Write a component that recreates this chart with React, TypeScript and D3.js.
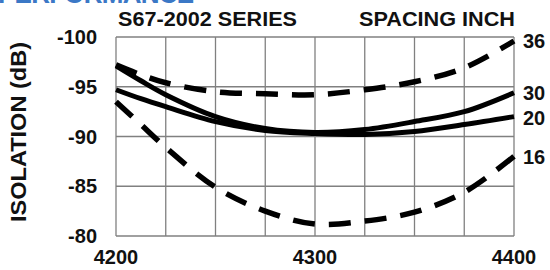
import React from "react";
import * as d3 from "d3";

const freqs = [4200, 4212.5, 4225, 4250, 4275, 4300, 4325, 4350, 4375, 4400];
const s36 = [-97.2, -96.2, -95.4, -94.5, -94.3, -94.2, -94.7, -95.5, -96.9, -99.6];
const s30 = [-97.1, -95.6, -94.2, -92.0, -90.8, -90.4, -90.7, -91.5, -92.5, -94.4];
const s20 = [-94.7, -93.8, -93.0, -91.5, -90.6, -90.3, -90.2, -90.5, -91.2, -92.0];
const s16 = [-93.5, -91.2, -88.9, -84.9, -82.5, -81.2, -81.5, -82.4, -84.4, -88.0];

const xTicks = [4200, 4300, 4400];
const yTicks = [-100, -95, -90, -85, -80];
const xGrid = [4200, 4225, 4250, 4275, 4300, 4325, 4350, 4375, 4400];

const series = [
  { name: "36", values: s36, dashed: true },
  { name: "30", values: s30, dashed: false },
  { name: "20", values: s20, dashed: false },
  { name: "16", values: s16, dashed: true },
];

const W = 550;
const H = 270;
const m = { left: 116, right: 514, top: 37, bottom: 236 };

export default function App() {
  const x = d3.scaleLinear().domain([4200, 4400]).range([m.left, m.right]);
  const y = d3.scaleLinear().domain([-100, -80]).range([m.top, m.bottom]);
  const line = d3
    .line<number>()
    .x((_, i) => x(freqs[i]))
    .y((d) => y(d))
    .curve(d3.curveCatmullRom.alpha(0.5));
  const font = "'Liberation Sans', Arial, Helvetica, sans-serif";
  const grid = "#808080";
  return (
    <div style={{ position: "fixed", left: 0, top: 0, background: "#fff" }}>
      <svg width={W} height={H} style={{ display: "block" }} fontFamily={font}>
        <rect width={W} height={H} fill="#fff" />
        <text x={-2} y={3} fontSize={26} fontWeight="bold" fill="#3b78c6" textLength={196}>
          PERFORMANCE
        </text>
        <text x={118} y={26} fontSize={20} fontWeight="bold" fill="#111" textLength={179} lengthAdjust="spacingAndGlyphs">
          S67-2002 SERIES
        </text>
        <text x={359} y={26} fontSize={20} fontWeight="bold" fill="#111" textLength={156} lengthAdjust="spacingAndGlyphs">
          SPACING INCH
        </text>
        {xGrid.map((v) => (
          <line key={"gx" + v} x1={x(v)} x2={x(v)} y1={m.top} y2={m.bottom} stroke={grid} strokeWidth={1.3} />
        ))}
        {yTicks.map((v) => (
          <line key={"gy" + v} x1={m.left} x2={m.right} y1={y(v)} y2={y(v)} stroke={grid} strokeWidth={1.3} />
        ))}
        {yTicks.map((v) => (
          <text key={"yt" + v} x={97} y={y(v)} dy="0.36em" fontSize={20} fontWeight="bold" fill="#111" textAnchor="end">
            {v}
          </text>
        ))}
        {xTicks.map((v) => (
          <text key={"xt" + v} x={x(v)} y={264} fontSize={20} fontWeight="bold" fill="#111" textAnchor="middle">
            {v}
          </text>
        ))}
        <text
          transform={`translate(26,${132}) rotate(-90)`}
          fontSize={22}
          fontWeight="bold"
          fill="#111"
          textAnchor="middle"
          textLength={180}
          lengthAdjust="spacingAndGlyphs"
        >
          ISOLATION (dB)
        </text>
        {series.map((s) => (
          <path
            key={s.name}
            d={line(s.values) || ""}
            fill="none"
            stroke="#000"
            strokeWidth={s.dashed ? 5.5 : 5}
            strokeDasharray={s.dashed ? "22 14" : undefined}
          />
        ))}
        {series.map((s) => (
          <text
            key={"lab" + s.name}
            x={523}
            y={y(s.values[s.values.length - 1]) + (s.name === "20" ? 1 : 0)}
            dy="0.36em"
            fontSize={20}
            fontWeight="bold"
            fill="#111"
          >
            {s.name}
          </text>
        ))}
      </svg>
    </div>
  );
}
